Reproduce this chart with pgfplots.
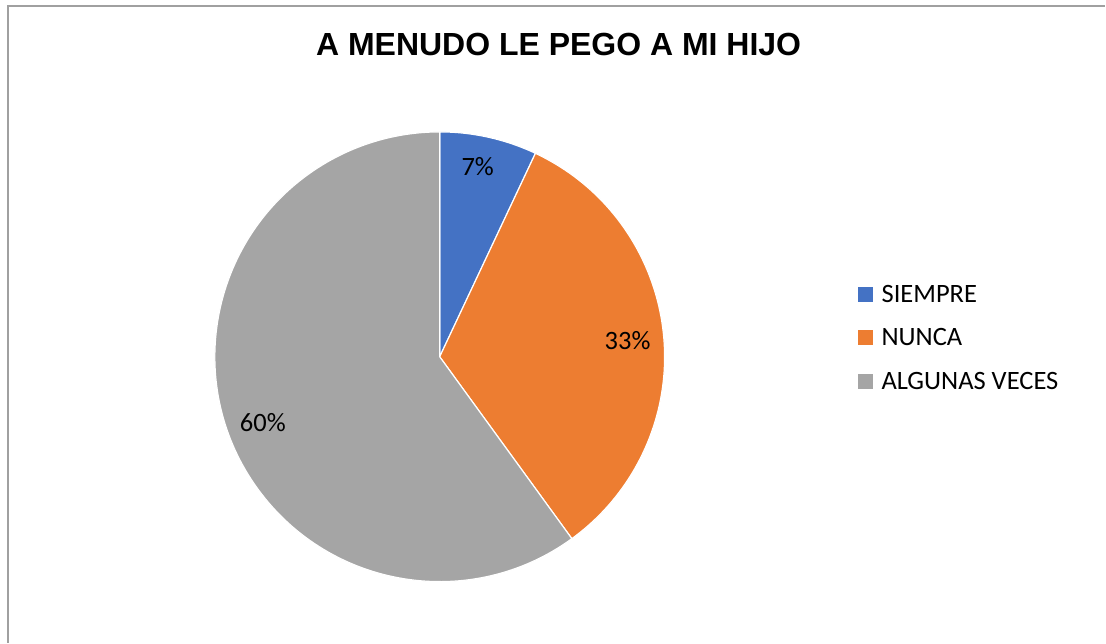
\documentclass[border=0pt]{standalone}
\usepackage{pgfplots}
\pgfplotsset{compat=1.18}
\usepackage{fontspec}
\setmainfont{Liberation Sans}
\newfontfamily\carlito{Carlito}
\definecolor{sblue}{HTML}{4472C4}
\definecolor{sorange}{HTML}{ED7D31}
\definecolor{sgray}{HTML}{A5A5A5}
\definecolor{frame}{HTML}{A0A0A0}
% values (percent)
\def\vA{7}
\def\vB{33}
\def\vC{60}
\newcommand\lblfont{\carlito\fontsize{26.5}{30}\selectfont}
\begin{document}
\begin{tikzpicture}
\begin{axis}[
  width=1106pt, height=643pt, scale only axis,
  xmin=0, xmax=1106, ymin=0, ymax=643,
  hide axis, clip=false,
]
\path (axis cs:0,0) rectangle (axis cs:1106,643);
\draw[frame, line width=1.5pt] (axis cs:8,0) -- (axis cs:8,637) -- (axis cs:1106,637);
% slices: start at 90 deg, clockwise
\pgfmathsetmacro\aA{90}
\pgfmathsetmacro\aB{90-3.6*\vA}
\pgfmathsetmacro\aC{90-3.6*(\vA+\vB)}
\pgfmathsetmacro\aD{90-3.6*(\vA+\vB+\vC)}
\filldraw[fill=sblue, draw=white, line width=1.2pt] (axis cs:440,286) -- ++(\aA:225pt) arc[start angle=\aA, end angle=\aB, radius=225pt] -- cycle;
\filldraw[fill=sorange, draw=white, line width=1.2pt] (axis cs:440,286) -- ++(\aB:225pt) arc[start angle=\aB, end angle=\aC, radius=225pt] -- cycle;
\filldraw[fill=sgray, draw=white, line width=1.2pt] (axis cs:440,286) -- ++(\aC:225pt) arc[start angle=\aC, end angle=\aD, radius=225pt] -- cycle;
% legend
\fill[sblue] (axis cs:859,340.5) rectangle (axis cs:874,355.5);
\fill[sorange] (axis cs:859,297.5) rectangle (axis cs:874,312.5);
\fill[sgray] (axis cs:859,253.5) rectangle (axis cs:874,268.5);
\node[anchor=base west, inner sep=0pt, font=\lblfont] at (axis cs:882,340) {SIEMPRE};
\node[anchor=base west, inner sep=0pt, font=\lblfont] at (axis cs:882,297) {NUNCA};
\node[anchor=base west, inner sep=0pt, font=\lblfont] at (axis cs:882,253) {ALGUNAS VECES};
\node[anchor=base, font=\bfseries\fontsize{32}{36}\selectfont] at (axis cs:559,587) {A MENUDO LE PEGO A MI HIJO};
\node[anchor=base, inner sep=0pt, font=\lblfont] at (axis cs:478,467) {\vA\%};
\node[anchor=base, inner sep=0pt, font=\lblfont] at (axis cs:628,293) {\vB\%};
\node[anchor=base, inner sep=0pt, font=\lblfont] at (axis cs:263,211) {\vC\%};
\end{axis}
\end{tikzpicture}
\end{document}
